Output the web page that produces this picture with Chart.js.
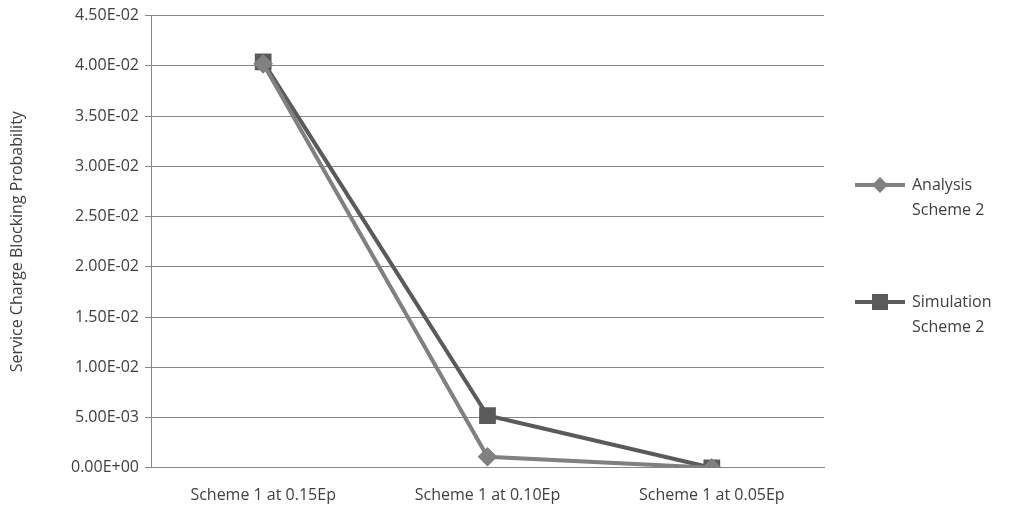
<!DOCTYPE html>
<html>
<head>
<meta charset="utf-8">
<script src="https://cdn.jsdelivr.net/npm/chart.js@4/dist/chart.umd.min.js"></script>
<style>
html,body{margin:0;padding:0;background:#fff;}
#wrap{width:1024px;height:529px;}
</style>
</head>
<body>
<div id="wrap"><canvas id="myChart" width="1024" height="529"></canvas></div>
<script>
const categories = ['Scheme 1 at 0.15Ep', 'Scheme 1 at 0.10Ep', 'Scheme 1 at 0.05Ep'];
const analysisScheme2 = [0.0402, 0.0011, 0.0];
const simulationScheme2 = [0.0404, 0.0052, 0.0];
const legendLines = [['Analysis', 'Scheme 2'], ['Simulation', 'Scheme 2']];

function sci(v) {
	let s = Number(v).toExponential(2).toUpperCase();
	let [m, e] = s.split('E');
	let sign = e[0] === '-' ? '-' : '+';
	let d = e.replace(/[+-]/, '').padStart(2, '0');
	return m + 'E' + sign + d;
}

const font = "'Open Sans', 'DejaVu Sans', sans-serif";

const sideLegend = {
	id: 'sideLegend',
	afterDraw(chart) {
		const c = chart.ctx;
		const ds = chart.data.datasets;
		const ys = [185, 302];
		c.save();
		c.font = '16px ' + font;
		c.textBaseline = 'middle';
		ds.forEach((d, i) => {
			const y = ys[i];
			c.strokeStyle = d.borderColor;
			c.lineWidth = 4;
			c.beginPath(); c.moveTo(855, y); c.lineTo(905, y); c.stroke();
			c.fillStyle = d.borderColor;
			if (d.pointStyle === 'rectRot') {
				c.beginPath(); c.moveTo(880, y - 8); c.lineTo(888, y); c.lineTo(880, y + 8); c.lineTo(872, y); c.closePath(); c.fill();
			} else {
				c.fillRect(872, y - 8, 16, 16);
			}
			c.fillStyle = '#404040';
			c.fillText(legendLines[i][0], 912, y);
			c.fillText(legendLines[i][1], 912, y + 25);
		});
		c.restore();
	}
};

new Chart(document.getElementById('myChart'), {
	type: 'line',
	data: {
		labels: categories,
		datasets: [{
			label: 'Analysis Scheme 2',
			data: analysisScheme2,
			borderColor: '#808080',
			backgroundColor: '#808080',
			borderWidth: 4,
			pointStyle: 'rectRot',
			pointRadius: 7,
			pointHoverRadius: 7,
			tension: 0
		}, {
			label: 'Simulation Scheme 2',
			data: simulationScheme2,
			borderColor: '#5a5a5a',
			backgroundColor: '#5a5a5a',
			borderWidth: 4,
			pointStyle: 'rect',
			pointRadius: 9,
			pointHoverRadius: 9,
			tension: 0
		}]
	},
	options: {
		responsive: false,
		animation: false,
		layout: { padding: { top: 12, right: 200, bottom: 14, left: 4 } },
		plugins: { legend: { display: false }, tooltip: { enabled: false } },
		scales: {
			x: {
				offset: true,
				grid: { display: false, offset: true },
				border: { color: '#868686', width: 1 },
				ticks: { color: '#404040', padding: 10, font: { family: font, size: 16 } }
			},
			y: {
				min: 0,
				max: 0.045,
				grid: { color: '#868686', tickLength: 6 },
				border: { color: '#868686' },
				ticks: { stepSize: 0.005, color: '#404040', padding: 6, font: { family: font, size: 16 }, callback: v => sci(v) },
				afterFit(s) { s.width = 147; },
				title: { display: true, text: 'Service Charge Blocking Probability', color: '#404040', font: { family: font, size: 16 } }
			}
		}
	},
	plugins: [sideLegend]
});
</script>
</body>
</html>
